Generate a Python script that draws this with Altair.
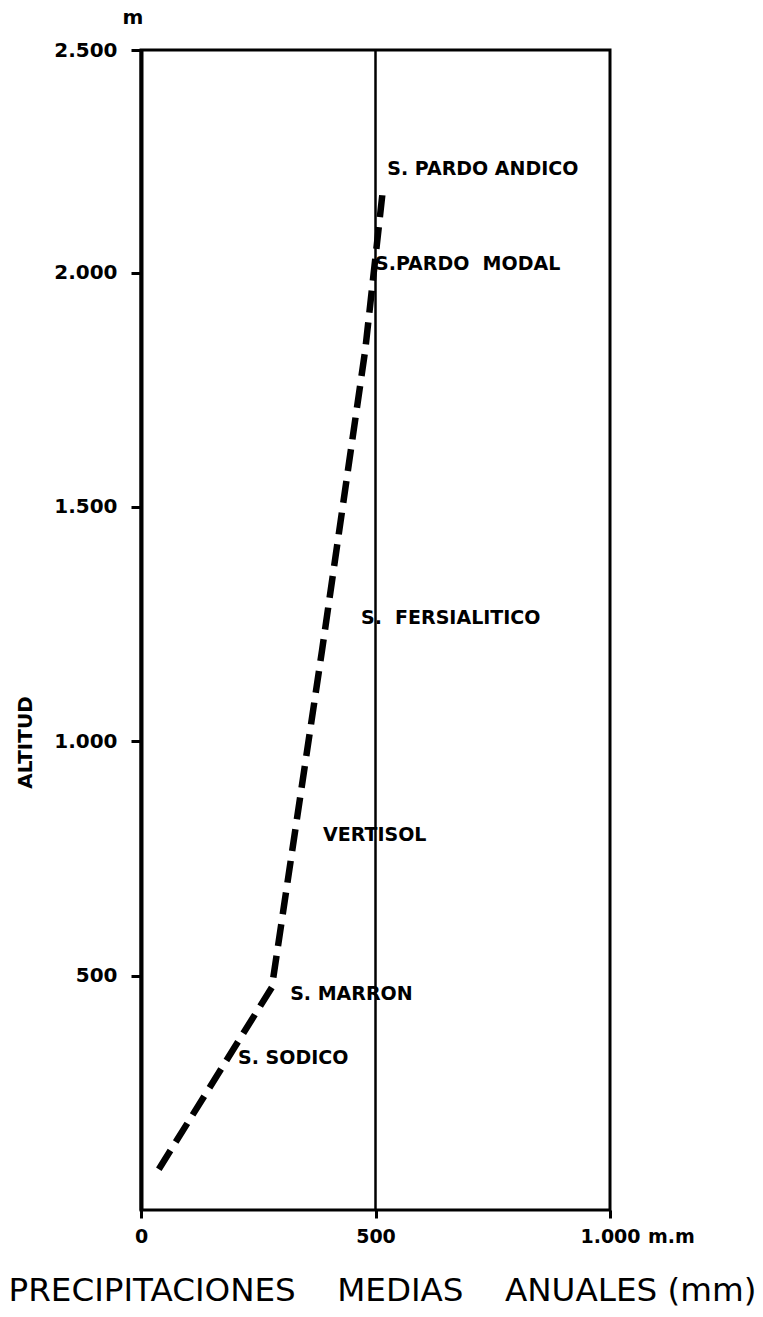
import altair as alt
import pandas as pd

# dashed relation line: annual mean precipitation (mm) vs altitude (m)
precip_mm = [38, 279, 386, 478, 516]
altitud_m = [87, 475, 1194, 1834, 2179]

# soil labels
soil_names = ["S. PARDO ANDICO", "S.PARDO\u00a0\u00a0MODAL", "S.\u00a0\u00a0FERSIALITICO",
              "VERTISOL", "S. MARRON", "S. SODICO"]
soil_x = [525, 499, 469, 388, 318, 207]
soil_y = [2222, 2019, 1264, 800, 461, 324]

# reference line
ref_x = [500]

# axes
x_ticks = [0, 500, 1000]
x_tick_labels = ["0", "500", "1.000"]
y_ticks = [500, 1000, 1500, 2000, 2475]
y_tick_labels = ["500", "1.000", "1.500", "2.000", "2.500"]
x_max = 1000
y_max = 2475


def label_expr(values, labels):
    expr = "''"
    for v, l in reversed(list(zip(values, labels))):
        expr = f"datum.value == {v} ? '{l}' : ({expr})"
    return expr


FONT = "DejaVu Sans"

line_df = pd.DataFrame({"precip": precip_mm, "alt": altitud_m})
lab_df = pd.DataFrame({"name": soil_names, "precip": soil_x, "alt": soil_y})
ref_df = pd.DataFrame({"precip": ref_x})
unit_x_df = pd.DataFrame({"precip": [x_max], "alt": [0], "t": ["m.m"]})
unit_y_df = pd.DataFrame({"precip": [0], "alt": [y_max], "t": ["m"]})

x_scale = alt.Scale(domain=[0, x_max], nice=False, zero=True)
y_scale = alt.Scale(domain=[0, y_max], nice=False, zero=True)

x_axis = alt.Axis(
    values=x_ticks,
    labelExpr=label_expr(x_ticks, x_tick_labels),
    grid=False, domain=False, labelFlush=False,
    tickColor="black", tickWidth=3, tickSize=8,
    labelFont=FONT, labelFontSize=19, labelFontWeight="bold", labelColor="black",
    labelPadding=9,
    title="PRECIPITACIONES\u00a0\u00a0\u00a0\u00a0MEDIAS\u00a0\u00a0\u00a0\u00a0ANUALES\u00a0(mm)",
    titleFont=FONT, titleFontSize=32.6, titleFontWeight="normal", titleColor="black",
    titleX=241, titleY=80, titleAlign="center", titleBaseline="middle",
)
y_axis = alt.Axis(
    values=y_ticks,
    labelExpr=label_expr(y_ticks, y_tick_labels),
    grid=False, domain=True, domainColor="black", domainWidth=4, labelFlush=False,
    tickColor="black", tickWidth=3, tickSize=10,
    labelFont=FONT, labelFontSize=20, labelFontWeight="bold", labelColor="black",
    labelPadding=14,
    title="ALTITUD",
    titleFont=FONT, titleFontSize=20, titleFontWeight="bold", titleColor="black",
    titleAngle=270, titleX=-116, titleY=692, titleAlign="center", titleBaseline="middle",
)

line = alt.Chart(line_df).mark_line(
    color="black", strokeWidth=6.5, strokeDash=[22, 10], strokeCap="butt"
).encode(
    x=alt.X("precip:Q", scale=x_scale, axis=x_axis),
    y=alt.Y("alt:Q", scale=y_scale, axis=y_axis),
)

ref = alt.Chart(ref_df).mark_rule(color="black", strokeWidth=2.5).encode(
    x=alt.X("precip:Q", scale=x_scale)
)

labels = alt.Chart(lab_df).mark_text(
    align="left", baseline="middle", font=FONT, fontSize=19, fontWeight="bold", color="black"
).encode(
    x=alt.X("precip:Q", scale=x_scale),
    y=alt.Y("alt:Q", scale=y_scale),
    text="name:N",
)

unit_x = alt.Chart(unit_x_df).mark_text(
    align="left", baseline="middle", dx=38, dy=27,
    font=FONT, fontSize=19, fontWeight="bold", color="black"
).encode(x=alt.X("precip:Q", scale=x_scale), y=alt.Y("alt:Q", scale=y_scale), text="t:N")

unit_y = alt.Chart(unit_y_df).mark_text(
    align="center", baseline="middle", dx=-8, dy=-32,
    font=FONT, fontSize=20, fontWeight="bold", color="black"
).encode(x=alt.X("precip:Q", scale=x_scale), y=alt.Y("alt:Q", scale=y_scale), text="t:N")

chart = alt.layer(ref, line, labels, unit_x, unit_y).properties(
    width=469, height=1160,
    autosize=alt.AutoSizeParams(type="none"),
    padding={"left": 141, "top": 50, "right": 153, "bottom": 107},
    background="white",
).configure_view(stroke="black", strokeWidth=3)

chart.save("out.html", embed_options={"renderer": "svg", "actions": False})
